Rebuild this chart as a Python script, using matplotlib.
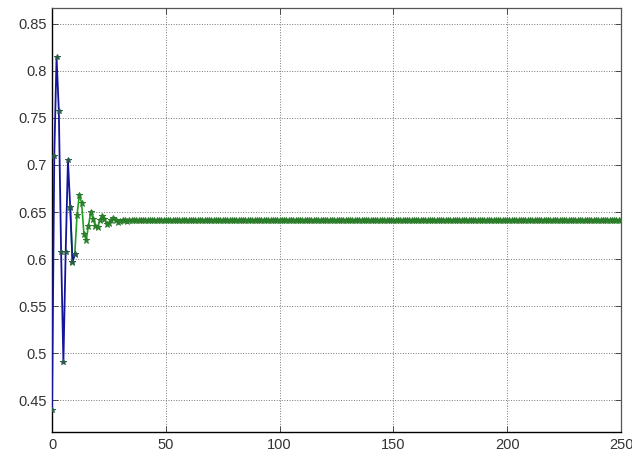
import matplotlib
matplotlib.use("Agg")
import matplotlib.pyplot as plt
import numpy as np

# values: a damped oscillation settling near 0.641
y_start = [0.439, 0.710, 0.815, 0.757, 0.607, 0.490, 0.607, 0.705, 0.655, 0.597,
           0.605, 0.647, 0.668, 0.660, 0.627, 0.620, 0.635, 0.650, 0.643, 0.635,
           0.634, 0.641, 0.646, 0.643, 0.637, 0.638, 0.642, 0.644, 0.641, 0.639,
           0.640, 0.642, 0.641, 0.640]
y_plateau = [0.641] * (251 - len(y_start))
values = np.array(y_start + y_plateau)
n = np.arange(len(values))

BLUE_END = 11   # blue segment covers the first points
GREEN_START = 8

x_ticks = [0, 50, 100, 150, 200, 250]
y_ticks = [0.45, 0.5, 0.55, 0.6, 0.65, 0.7, 0.75, 0.8, 0.85]
y_tick_labels = ["0.45", "0.5", "0.55", "0.6", "0.65", "0.7", "0.75", "0.8", "0.85"]

plt.rcParams["font.family"] = ["Liberation Sans", "DejaVu Sans"]

fig = plt.figure(figsize=(6.32, 4.55), dpi=100)
ax = fig.add_axes([0.0823, 0.0505, 0.9003, 0.932])

ax.plot(n[GREEN_START:], values[GREEN_START:], color="#22a022", linewidth=1.2,
        marker="*", markersize=4.5, markeredgewidth=0.7,
        markerfacecolor="#2a8a2a", markeredgecolor="#2a7a2a", zorder=3)
ax.plot(n[:BLUE_END], values[:BLUE_END], color="#15159a", linewidth=1.3, zorder=4)
ax.plot(n[:BLUE_END], values[:BLUE_END], linestyle="none", marker="*",
        markersize=4, markeredgewidth=0.7, color="#2a5a4a", zorder=5)

ax.set_xlim(0, 250)
ax.set_ylim(0.416, 0.867)
ax.set_xticks(x_ticks)
ax.set_yticks(y_ticks)
ax.set_yticklabels(y_tick_labels)
ax.tick_params(direction="in", top=True, right=True, labelsize=10.5,
               length=4, width=0.6, colors="#333333", pad=4)
ax.grid(True, linestyle=":", color="#555555", linewidth=0.7, alpha=0.8)
for side in ["left", "bottom"]:
    ax.spines[side].set_color("black")
    ax.spines[side].set_linewidth(1.0)
for side in ["top", "right"]:
    ax.spines[side].set_color("#555555")
    ax.spines[side].set_linewidth(0.9)

fig.savefig("out.png", dpi=100)
